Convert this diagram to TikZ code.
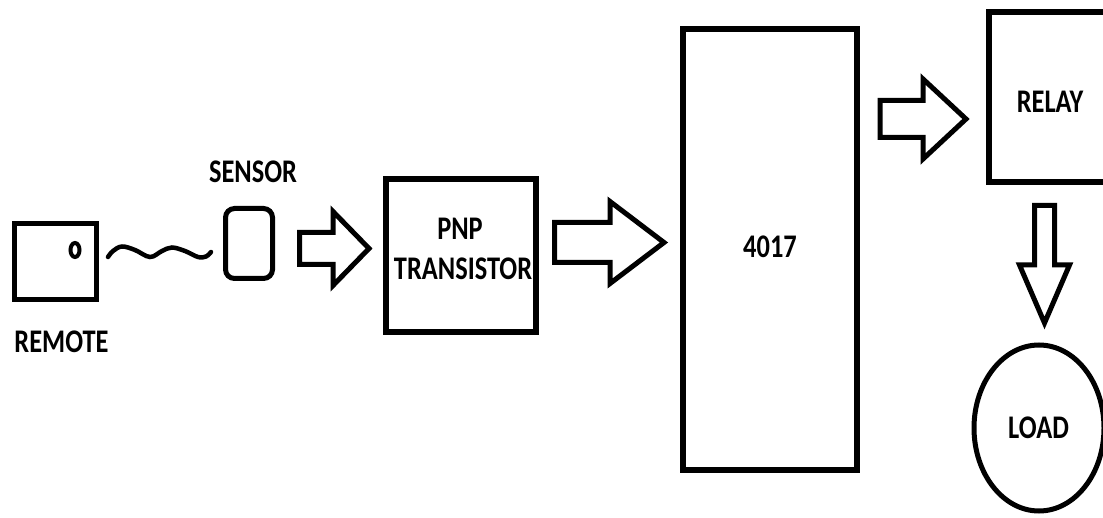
\documentclass[tikz,border=0pt]{standalone}
\usepackage{fontspec}
\newfontfamily\lblfont{Carlito}[FakeStretch=0.80]
\usetikzlibrary{shapes.geometric}
\tikzset{
  lbl/.style={font=\lblfont\bfseries\fontsize{33}{35}\selectfont, inner sep=0pt, anchor=base},
  barrow/.style={draw, line width=5pt, line join=miter},
}
\newcommand\harrow[6]{% start x, center y, head base x, tip x, shaft half, head half
  \draw[barrow] (#1,#2-#5) -- (#3,#2-#5) -- (#3,#2-#6) -- (#4,#2) -- (#3,#2+#6) -- (#3,#2+#5) -- (#1,#2+#5) -- cycle;}
\newcommand\varrow[6]{% center x, start y, head base y, tip y, shaft half, head half
  \draw[barrow] (#1-#5,#2) -- (#1-#5,#3) -- (#1-#6,#3) -- (#1,#4) -- (#1+#6,#3) -- (#1+#5,#3) -- (#1+#5,#2) -- cycle;}
\begin{document}
\begin{tikzpicture}[x=1pt,y=-1pt]
\useasboundingbox (0,0) rectangle (1103,518);
\clip (0,0) rectangle (1103,518);
% remote
\node[draw, line width=5pt, inner sep=0pt, minimum width=82pt, minimum height=76pt] (remote) at (55,262) {};
\node[draw, ellipse, line width=4pt, inner sep=0pt, minimum width=9pt, minimum height=14pt] (led) at (75,250) {};
\node[lbl] (remotelbl) at (61.5,353) {REMOTE};
% IR wave
\draw[line width=4.5pt, line cap=round] plot[smooth, tension=0.6] coordinates {(108,257) (113,251) (122,246.5) (135,250) (150,257) (162,251) (172,247.5) (185,251) (198,257) (206,256.5) (211,252)};
% sensor
\node[draw, line width=5pt, rounded corners=9pt, inner sep=0pt, minimum width=47pt, minimum height=70pt] (sensor) at (249,243.5) {};
\node[lbl] (sensorlbl) at (253,183) {SENSOR};
% arrow sensor -> pnp
\harrow{299.5}{248.5}{333}{369}{16}{37}
% pnp transistor
\node[draw, line width=5.5pt, inner sep=0pt, minimum width=150pt, minimum height=153pt] (pnp) at (461,255.5) {};
\node[lbl] (pnplbl1) at (460,240) {PNP};
\node[lbl] (pnplbl2) at (463,280) {TRANSISTOR};
% arrow pnp -> 4017
\harrow{554.5}{242.5}{610}{664}{20}{41}
% 4017
\node[draw, line width=6pt, inner sep=0pt, minimum width=174pt, minimum height=441pt] (ic) at (770,249.5) {};
\node[lbl] (iclbl) at (770,258) {4017};
% arrow 4017 -> relay
\harrow{880}{119}{923}{966}{18.5}{40}
% relay
\draw[line width=5.5pt] (1115,12) -- (989,12) -- (989,182) -- (1115,182);
\coordinate (relay) at (1050,97);
\node[lbl] (relaylbl) at (1050,113) {RELAY};
% arrow relay -> load
\varrow{1044.5}{205.5}{265}{323}{10}{25}
% load
\node[draw, ellipse, line width=5pt, inner sep=0pt, minimum width=130pt, minimum height=166pt] (load) at (1039,428) {};
\node[lbl] (loadlbl) at (1038.5,438) {LOAD};
\end{tikzpicture}
\end{document}
